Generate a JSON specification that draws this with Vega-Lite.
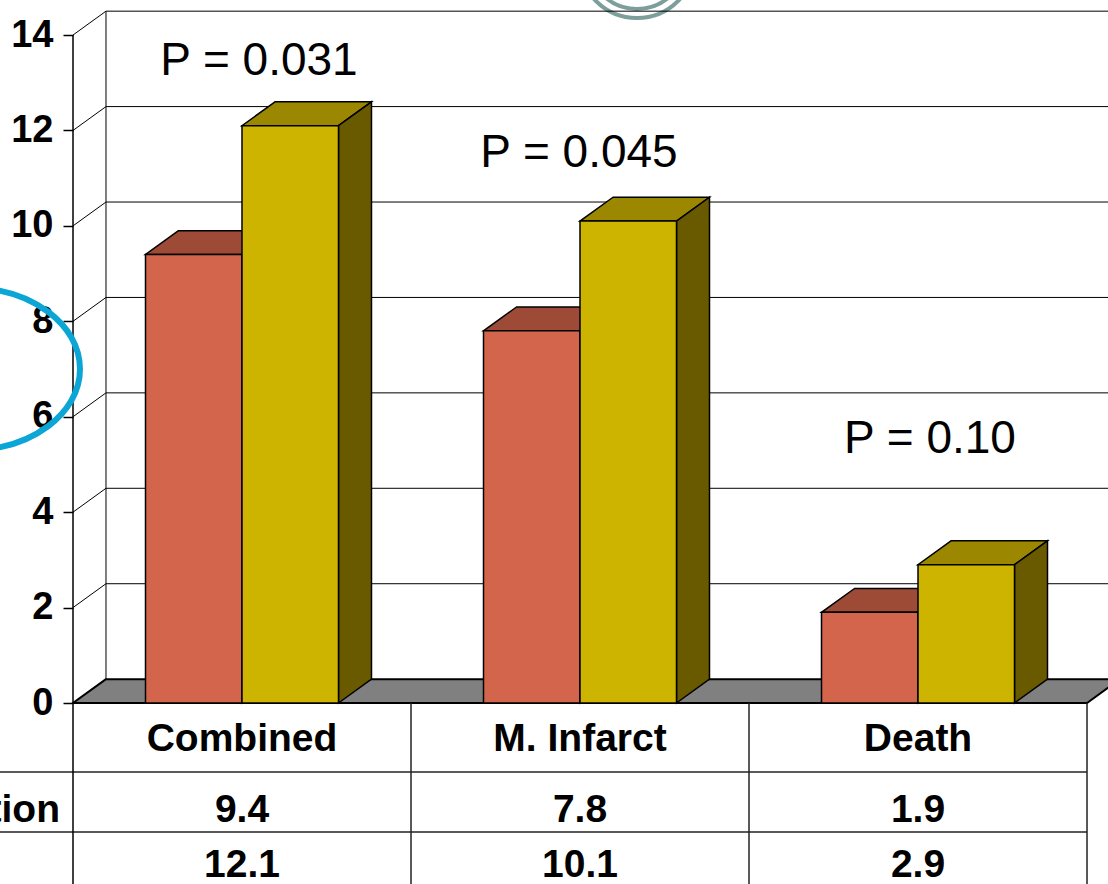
{
  "$schema": "https://vega.github.io/schema/vega-lite/v6.json",
  "width": 1035,
  "height": 884,
  "autosize": {"type": "none"},
  "padding": {"left": 73, "top": 0, "right": 0, "bottom": 0},
  "background": "white",
  "config": {
    "view": {"stroke": null},
    "font": "Liberation Sans",
    "axis": {"title": null, "grid": false, "domain": false},
    "axisY": {"ticks": true, "tickSize": 10, "tickColor": "black", "tickWidth": 1.5, "labelFont": "Liberation Sans", "labelFontSize": 38, "labelFontWeight": "bold", "labelColor": "black", "labelPadding": 10, "labelFlush": false, "labelOverlap": false}
  },
  "datasets": {
    "bars": [
      {"cat": "Combined", "idx": 0, "series": "A", "value": 9.4},
      {"cat": "Combined", "idx": 0, "series": "B", "value": 12.1},
      {"cat": "M. Infarct", "idx": 1, "series": "A", "value": 7.8},
      {"cat": "M. Infarct", "idx": 1, "series": "B", "value": 10.1},
      {"cat": "Death", "idx": 2, "series": "A", "value": 1.9},
      {"cat": "Death", "idx": 2, "series": "B", "value": 2.9}
    ],
    "ticks": [{"v": 0}, {"v": 2}, {"v": 4}, {"v": 6}, {"v": 8}, {"v": 10}, {"v": 12}, {"v": 14}],
    "pvals": [
      {"cat": "Combined", "p": "P = 0.031", "px": 0.5503, "py": 13.162},
      {"cat": "M. Infarct", "p": "P = 0.045", "px": 1.497, "py": 11.234},
      {"cat": "Death", "p": "P = 0.10", "px": 2.5355, "py": 5.24}
    ]
  },
  "resolve": {"scale": {"fill": "independent"}},
  "layer": [
    {
      "data": {"values": [{"ring": "outer"}]},
      "mark": {"type": "point", "shape": "circle", "filled": false, "stroke": "#7C9F9B", "strokeWidth": 4, "opacity": 1, "size": 13456},
      "encoding": {
        "x": {"datum": 1.6686, "type": "quantitative", "scale": {"domain": [0, 3.0621], "nice": false, "zero": false}, "axis": null},
        "y": {"datum": 15.572, "type": "quantitative", "scale": {"domain": [-3.7934, 14.734], "nice": false, "zero": false}, "axis": {"values": [0, 2, 4, 6, 8, 10, 12, 14]}}
      }
    },
    {
      "data": {"values": [{"ring": "inner"}]},
      "mark": {"type": "point", "shape": "circle", "filled": false, "stroke": "#7C9F9B", "strokeWidth": 4, "opacity": 1, "size": 9604},
      "encoding": {
        "x": {"datum": 1.6686, "type": "quantitative", "axis": null},
        "y": {"datum": 15.572, "type": "quantitative"}
      }
    },
    {
      "data": {"name": "ticks"},
      "transform": [{"filter": "datum.v > 0"}, {"calculate": "datum.v + 0.5", "as": "vb"}],
      "mark": {"type": "rule", "color": "black", "strokeWidth": 1},
      "encoding": {
        "x": {"datum": 0.0976, "type": "quantitative", "axis": null},
        "x2": {"datum": 3.2},
        "y": {"field": "vb", "type": "quantitative"}
      }
    },
    {
      "data": {"name": "ticks"},
      "transform": [{"filter": "datum.v > 0"}, {"calculate": "datum.v + 0.5", "as": "vb"}],
      "mark": {"type": "rule", "color": "black", "strokeWidth": 1},
      "encoding": {
        "x": {"datum": 0, "type": "quantitative", "axis": null},
        "x2": {"datum": 0.0976},
        "y": {"field": "v", "type": "quantitative"},
        "y2": {"field": "vb"}
      }
    },
    {
      "data": {"values": [{"wall": "back"}]},
      "mark": {"type": "rule", "color": "black", "strokeWidth": 1},
      "encoding": {
        "x": {"datum": 0.0976, "type": "quantitative", "axis": null},
        "y": {"datum": 0.5, "type": "quantitative"},
        "y2": {"datum": 14.5}
      }
    },
    {
      "data": {"values": [{"t": 0}, {"t": 1}]},
      "transform": [
        {"calculate": "datum.t * 0.0976", "as": "xa"},
        {"calculate": "3 + datum.t * 0.0976", "as": "xb"},
        {"calculate": "datum.t * 0.5", "as": "yf"}
      ],
      "mark": {"type": "area", "orient": "horizontal", "fill": "#808080", "stroke": "black", "strokeWidth": 2, "opacity": 1},
      "encoding": {
        "y": {"field": "yf", "type": "quantitative"},
        "x": {"field": "xa", "type": "quantitative", "axis": null, "stack": null},
        "x2": {"field": "xb"}
      }
    },
    {
      "data": {"name": "bars"},
      "transform": [
        {"calculate": "datum.idx + 0.5 - (datum.series == 'A' ? 0.2855 : 0)", "as": "x0"},
        {"calculate": "datum.x0 + 0.2855", "as": "x1"},
        {"calculate": "[0, 1]", "as": "t"},
        {"flatten": ["t"]},
        {"calculate": "datum.value + datum.t * 0.5", "as": "yy"},
        {"calculate": "datum.x0 + datum.t * 0.0976", "as": "xa"},
        {"calculate": "datum.x1 + datum.t * 0.0976", "as": "xb"},
        {"calculate": "datum.cat + datum.series", "as": "key"}
      ],
      "mark": {"type": "area", "orient": "horizontal", "stroke": "black", "strokeWidth": 1.5, "opacity": 1},
      "encoding": {
        "y": {"field": "yy", "type": "quantitative"},
        "x": {"field": "xa", "type": "quantitative", "axis": null, "stack": null},
        "x2": {"field": "xb"},
        "detail": {"field": "key"},
        "fill": {"field": "series", "type": "nominal", "scale": {"domain": ["A", "B"], "range": ["#9D4B37", "#9B8800"]}, "legend": null}
      }
    },
    {
      "data": {"name": "bars"},
      "transform": [
        {"calculate": "datum.idx + 0.5 - (datum.series == 'A' ? 0.2855 : 0)", "as": "x0"},
        {"calculate": "datum.x0 + 0.2855", "as": "x1"},
        {"calculate": "[0, 1]", "as": "t"},
        {"flatten": ["t"]},
        {"calculate": "datum.x1 + datum.t * 0.0976", "as": "xs"},
        {"calculate": "datum.t * 0.5", "as": "ya"},
        {"calculate": "datum.value + datum.t * 0.5", "as": "yb"},
        {"calculate": "datum.cat + datum.series", "as": "key"}
      ],
      "mark": {"type": "area", "orient": "vertical", "stroke": "black", "strokeWidth": 1.5, "opacity": 1},
      "encoding": {
        "x": {"field": "xs", "type": "quantitative", "axis": null},
        "y": {"field": "ya", "type": "quantitative", "stack": null},
        "y2": {"field": "yb"},
        "detail": {"field": "key"},
        "fill": {"field": "series", "type": "nominal", "scale": {"domain": ["A", "B"], "range": ["#7A3A2A", "#695A00"]}, "legend": null}
      }
    },
    {
      "data": {"name": "bars"},
      "transform": [
        {"calculate": "datum.idx + 0.5 - (datum.series == 'A' ? 0.2855 : 0)", "as": "x0"},
        {"calculate": "datum.x0 + 0.2855", "as": "x1"}
      ],
      "mark": {"type": "rect", "stroke": "black", "strokeWidth": 1.5, "opacity": 1},
      "encoding": {
        "x": {"field": "x0", "type": "quantitative", "axis": null},
        "x2": {"field": "x1"},
        "y": {"field": "value", "type": "quantitative"},
        "y2": {"datum": 0},
        "fill": {"field": "series", "type": "nominal", "scale": {"domain": ["A", "B"], "range": ["#D2654B", "#CDB400"]}, "legend": null}
      }
    },
    {
      "data": {"values": [{"line": "row1"}]},
      "mark": {"type": "rule", "color": "#222222", "strokeWidth": 1.5},
      "encoding": {
        "x": {"datum": -0.3, "type": "quantitative", "axis": null},
        "x2": {"datum": 3.0},
        "y": {"datum": -1.4461, "type": "quantitative"}
      }
    },
    {
      "data": {"values": [{"line": "row2"}]},
      "mark": {"type": "rule", "color": "#222222", "strokeWidth": 1.5},
      "encoding": {
        "x": {"datum": -0.3, "type": "quantitative", "axis": null},
        "x2": {"datum": 3.0},
        "y": {"datum": -2.7036, "type": "quantitative"}
      }
    },
    {
      "data": {"name": "bars"},
      "transform": [{"filter": "datum.series == 'A'"}, {"calculate": "datum.idx + 1", "as": "xe"}],
      "mark": {"type": "rule", "color": "#222222", "strokeWidth": 1.5},
      "encoding": {
        "x": {"field": "xe", "type": "quantitative", "axis": null},
        "y": {"datum": 0, "type": "quantitative"},
        "y2": {"datum": -3.9}
      }
    },
    {
      "data": {"values": [{"line": "axis"}]},
      "mark": {"type": "rule", "color": "black", "strokeWidth": 1.5},
      "encoding": {
        "x": {"datum": 0, "type": "quantitative", "axis": null},
        "y": {"datum": 14, "type": "quantitative"},
        "y2": {"datum": -3.9}
      }
    },
    {
      "data": {"name": "bars"},
      "transform": [{"filter": "datum.series == 'A'"}, {"calculate": "datum.idx + 0.5", "as": "xc"}],
      "mark": {"type": "text", "font": "Liberation Sans", "fontSize": 39, "fontWeight": "bold", "color": "black", "align": "center", "baseline": "alphabetic"},
      "encoding": {
        "x": {"field": "xc", "type": "quantitative", "axis": null},
        "y": {"datum": -1.006, "type": "quantitative"},
        "text": {"field": "cat"}
      }
    },
    {
      "data": {"name": "bars"},
      "transform": [{"filter": "datum.series == 'A'"}, {"calculate": "datum.idx + 0.5", "as": "xc"}],
      "mark": {"type": "text", "font": "Liberation Sans", "fontSize": 39, "fontWeight": "bold", "color": "black", "align": "center", "baseline": "alphabetic"},
      "encoding": {
        "x": {"field": "xc", "type": "quantitative", "axis": null},
        "y": {"datum": -2.494, "type": "quantitative"},
        "text": {"field": "value", "format": ".1f"}
      }
    },
    {
      "data": {"name": "bars"},
      "transform": [{"filter": "datum.series == 'B'"}, {"calculate": "datum.idx + 0.5", "as": "xc"}],
      "mark": {"type": "text", "font": "Liberation Sans", "fontSize": 39, "fontWeight": "bold", "color": "black", "align": "center", "baseline": "alphabetic"},
      "encoding": {
        "x": {"field": "xc", "type": "quantitative", "axis": null},
        "y": {"datum": -3.647, "type": "quantitative"},
        "text": {"field": "value", "format": ".1f"}
      }
    },
    {
      "data": {"values": [{"label": "tion"}]},
      "mark": {"type": "text", "font": "Liberation Sans", "fontSize": 39, "fontWeight": "bold", "color": "black", "align": "right", "baseline": "alphabetic"},
      "encoding": {
        "x": {"datum": -0.0385, "type": "quantitative", "axis": null},
        "y": {"datum": -2.494, "type": "quantitative"},
        "text": {"field": "label"}
      }
    },
    {
      "data": {"name": "pvals"},
      "mark": {"type": "text", "font": "Liberation Sans", "fontSize": 46, "color": "black", "align": "center", "baseline": "alphabetic"},
      "encoding": {
        "x": {"field": "px", "type": "quantitative", "axis": null},
        "y": {"field": "py", "type": "quantitative"},
        "text": {"field": "p"}
      }
    },
    {
      "data": {"values": [{"shape": "ellipse"}]},
      "mark": {"type": "point", "shape": "M -1 0 A 1 0.743 0 1 1 1 0 A 1 0.743 0 1 1 -1 0 Z", "filled": false, "stroke": "#0BA6D6", "strokeWidth": 6, "opacity": 1, "size": 47524},
      "encoding": {
        "x": {"datum": -0.3018, "type": "quantitative", "axis": null},
        "y": {"datum": 7.0, "type": "quantitative"}
      }
    }
  ]
}
